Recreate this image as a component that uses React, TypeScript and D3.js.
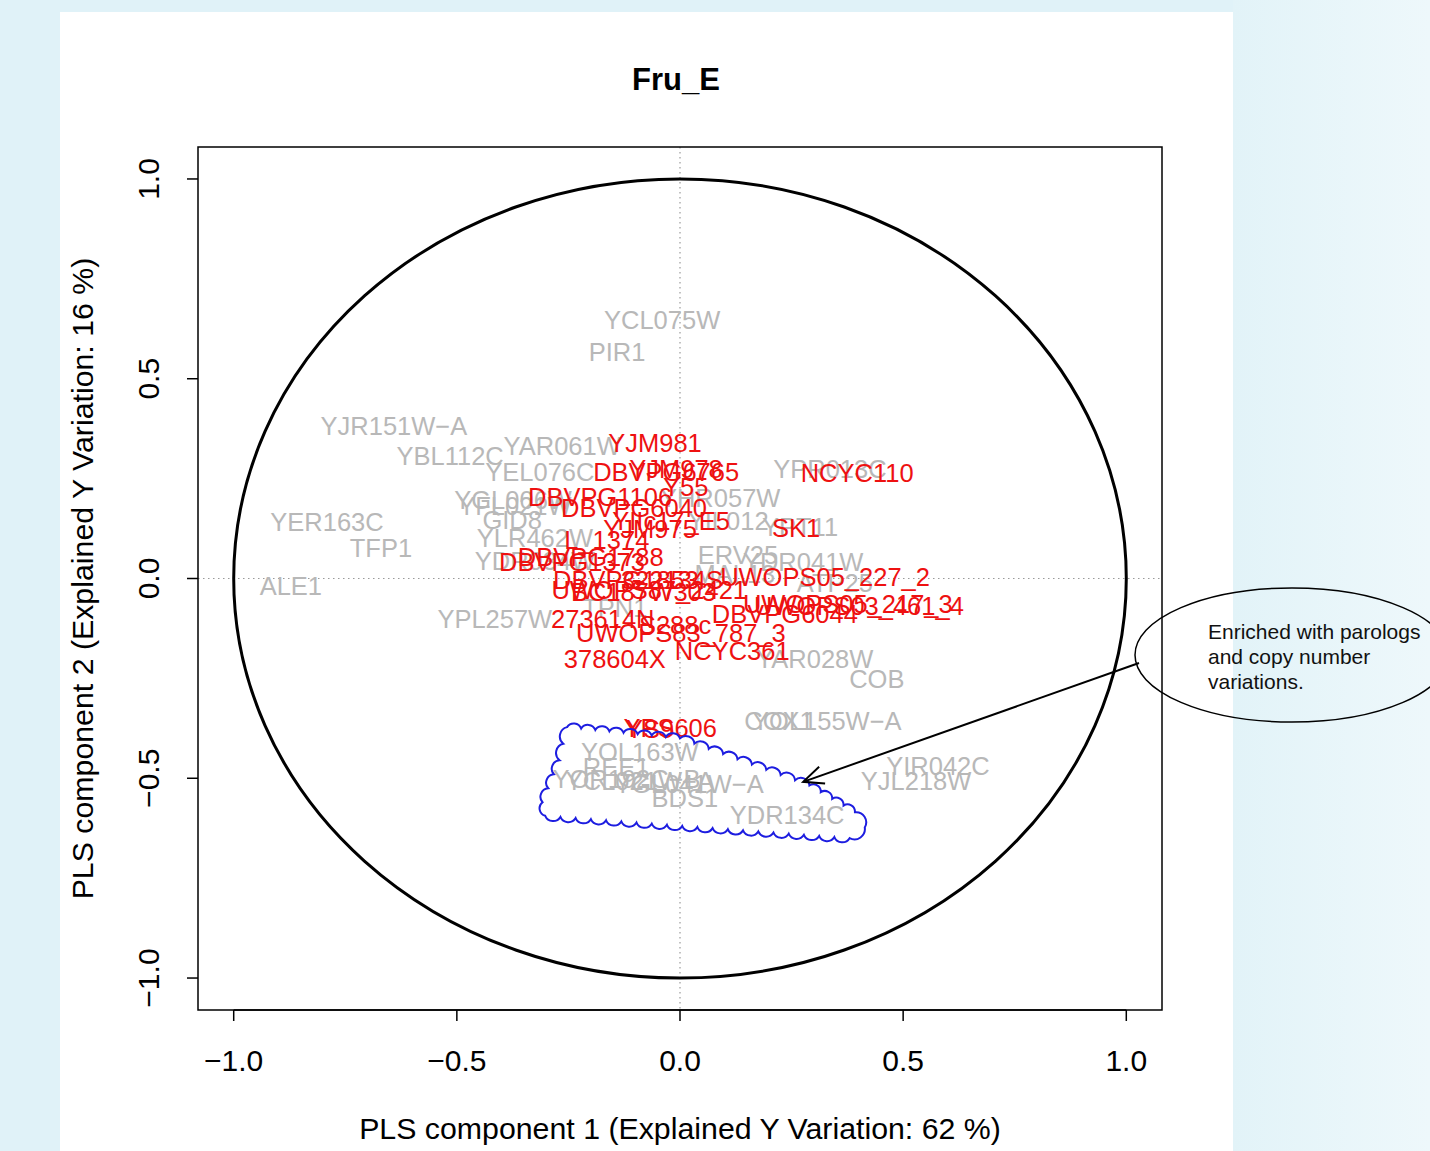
import React from "react";
import * as d3 from "d3";

const TITLE = "Fru_E";
const X_LABEL = "PLS component 1 (Explained Y Variation: 62 %)";
const Y_LABEL = "PLS component 2 (Explained Y Variation: 16 %)";
const xTicks = [-1, -0.5, 0, 0.5, 1];
const yTicks = [-1, -0.5, 0, 0.5, 1];
const tickLabels = ["−1.0", "−0.5", "0.0", "0.5", "1.0"];

// gray labels (genes)
const geneNames = [
  "YCL075W", "PIR1", "YJR151W−A", "YBL112C", "YAR061W", "YEL076C", "YGL006W", "YFL021W",
  "GID8", "YLR462W", "YDR034W", "YER163C", "TFP1", "ALE1", "YPL257W", "YHR057W", "YIL012",
  "YPT11", "ERV25", "YDR041W", "ATP25", "MAL13", "TPN1", "YAR028W", "COB", "COX1",
  "YOL155W−A", "YIR042C", "YJL218W", "YOL163W", "REE1", "YCL021W−A", "YOR192C−B",
  "YGL041W−A", "BDS1", "YDR134C", "YPR013C",
];
const geneX = [
  -0.040, -0.141, -0.641, -0.515, -0.264, -0.314, -0.374, -0.370,
  -0.376, -0.325, -0.325, -0.791, -0.670, -0.872, -0.415, 0.090, 0.108,
  0.269, 0.130, 0.276, 0.347, 0.123, -0.146, 0.302, 0.441, 0.222,
  0.329, 0.578, 0.529, -0.090, -0.143, -0.090, -0.120,
  0.020, 0.011, 0.240, 0.336,
];
const geneY = [
  0.647, 0.567, 0.382, 0.307, 0.332, 0.267, 0.196, 0.181,
  0.146, 0.101, 0.044, 0.141, 0.076, -0.019, -0.101, 0.202, 0.144,
  0.129, 0.059, 0.041, -0.011, 0.011, -0.074, -0.201, -0.252, -0.357,
  -0.357, -0.470, -0.508, -0.434, -0.472, -0.507, -0.503,
  -0.515, -0.549, -0.592, 0.274,
];

// red labels (strains)
const strainNames = [
  "YJM981", "DBVPG6765", "YJM978", "Y55", "NCYC110", "DBVPG1106", "DBVPG6040", "YIIc17_E5",
  "YJM975", "L_1374", "SK1", "DBVPG1788", "DBVPG1373", "DBVPG1853", "322134S", "UWOPS05_227_2",
  "UWOPS87_2421", "BC187", "W303", "273614N", "S288c", "UWOPS83_787_3", "378604X", "NCYC361",
  "DBVPG6044", "UWOPS03_461_4", "UWOPS05_217_3", "YPS606", "YS9",
];
const strainX = [
  -0.056, -0.031, -0.009, 0.013, 0.397, -0.179, -0.103, -0.020,
  -0.067, -0.164, 0.260, -0.200, -0.242, -0.121, -0.018, 0.325,
  -0.069, -0.157, 0.006, -0.173, -0.011, 0.002, -0.146, 0.117,
  0.235, 0.401, 0.376, -0.022, -0.067,
];
const strainY = [
  0.339, 0.267, 0.274, 0.229, 0.264, 0.204, 0.176, 0.145,
  0.124, 0.096, 0.126, 0.054, 0.041, -0.004, -0.004, 0.004,
  -0.029, -0.034, -0.034, -0.101, -0.116, -0.136, -0.201, -0.181,
  -0.089, -0.069, -0.064, -0.374, -0.377,
];

// cloud outline (data coords, clockwise on screen)
const cloudX = [-0.253, 0.000, 0.290, 0.392, 0.414, 0.380, -0.302, -0.308, -0.270];
const cloudY = [-0.372, -0.400, -0.518, -0.585, -0.623, -0.650, -0.594, -0.560, -0.455];

const calloutLines = ["Enriched with parologs", "and copy number", "variations."];
const arrowTip = [0.276, -0.509];

const W = 1430;
const H = 1151;
const FONT = "'Liberation Sans', Arial, Helvetica, sans-serif";

function cloudPath(pts: [number, number][]) {
  let d = `M${pts[0][0]},${pts[0][1]}`;
  const n = pts.length;
  for (let i = 0; i < n; i++) {
    const a = pts[i];
    const b = pts[(i + 1) % n];
    const len = Math.hypot(b[0] - a[0], b[1] - a[1]);
    const k = Math.max(1, Math.round(len / 15));
    for (let j = 1; j <= k; j++) {
      const px = a[0] + ((b[0] - a[0]) * j) / k;
      const py = a[1] + ((b[1] - a[1]) * j) / k;
      const r = (len / k) * 0.56;
      d += ` A${r},${r} 0 0 1 ${px},${py}`;
    }
  }
  return d + "Z";
}

export default function App() {
  const x = d3.scaleLinear().domain([-1.08, 1.08]).range([198, 1162]);
  const y = d3.scaleLinear().domain([-1.08, 1.08]).range([1010, 147]);
  const cx = x(0), cy = y(0);
  const rx = x(1) - x(0), ry = y(0) - y(1);
  const cloudPts: [number, number][] = cloudX.map((v, i) => [x(v), y(cloudY[i])]);
  const tip = [x(arrowTip[0]), y(arrowTip[1])];
  const start = [1139, 663];
  const ang = Math.atan2(tip[1] - start[1], tip[0] - start[0]);
  const ah = 22, aw = 0.42;
  const a1 = [tip[0] - ah * Math.cos(ang - aw), tip[1] - ah * Math.sin(ang - aw)];
  const a2 = [tip[0] - ah * Math.cos(ang + aw), tip[1] - ah * Math.sin(ang + aw)];

  return (
    <svg width={W} height={H} style={{ position: "absolute", left: 0, top: 0 }} fontFamily={FONT}>
      <defs>
        <linearGradient id="bgR" x1="0" x2="1" y1="0" y2="0">
          <stop offset="0" stopColor="#e2f3f8" />
          <stop offset="1" stopColor="#eef8fb" />
        </linearGradient>
      </defs>
      <rect x={0} y={0} width={W} height={H} fill="#e0f2f8" />
      <rect x={1233} y={0} width={W - 1233} height={H} fill="url(#bgR)" />
      <rect x={60} y={12} width={1173} height={H - 12} fill="#ffffff" />

      <text x={676} y={79} textAnchor="middle" dominantBaseline="central" fontSize={31} fontWeight="bold">
        {TITLE}
      </text>

      {/* dotted axes */}
      <line x1={cx} x2={cx} y1={147} y2={1010} stroke="#9a9a9a" strokeWidth={1.2} strokeDasharray="1.5,3.5" />
      <line x1={198} x2={1162} y1={cy} y2={cy} stroke="#9a9a9a" strokeWidth={1.2} strokeDasharray="1.5,3.5" />

      {/* unit circle */}
      <ellipse cx={cx} cy={cy} rx={rx} ry={ry} fill="none" stroke="#000" strokeWidth={3} />

      {/* gene labels */}
      {geneNames.map((n, i) => (
        <text key={"g" + i} x={x(geneX[i])} y={y(geneY[i])} textAnchor="middle" dominantBaseline="central"
          fontSize={25.5} fill="#b8b8b8">{n}</text>
      ))}
      {/* strain labels */}
      {strainNames.map((n, i) => (
        <text key={"s" + i} x={x(strainX[i])} y={y(strainY[i])} textAnchor="middle" dominantBaseline="central"
          fontSize={25.5} fill="#ee1111">{n}</text>
      ))}

      {/* cloud */}
      <path d={cloudPath(cloudPts)} fill="none" stroke="#1d1de0" strokeWidth={2} />

      {/* plot box */}
      <rect x={198} y={147} width={964} height={863} fill="none" stroke="#000" strokeWidth={1.5} />

      {/* x axis */}
      <line x1={x(-1)} x2={x(1)} y1={1010} y2={1010} stroke="#000" strokeWidth={1.5} />
      {xTicks.map((t, i) => (
        <g key={"xt" + i}>
          <line x1={x(t)} x2={x(t)} y1={1010} y2={1021} stroke="#000" strokeWidth={1.5} />
          <text x={x(t)} y={1060} textAnchor="middle" dominantBaseline="central" fontSize={30}>{tickLabels[i]}</text>
        </g>
      ))}
      {/* y axis */}
      {yTicks.map((t, i) => (
        <g key={"yt" + i}>
          <line x1={187} x2={198} y1={y(t)} y2={y(t)} stroke="#000" strokeWidth={1.5} />
          <text transform={`translate(148,${y(t)}) rotate(-90)`} textAnchor="middle" dominantBaseline="central" fontSize={30}>
            {tickLabels[i]}
          </text>
        </g>
      ))}

      <text x={680} y={1128} textAnchor="middle" dominantBaseline="central" fontSize={30.3}>{X_LABEL}</text>
      <text transform={`translate(82,${cy}) rotate(-90)`} textAnchor="middle" dominantBaseline="central" fontSize={30.3}>
        {Y_LABEL}
      </text>

      {/* callout */}
      <ellipse cx={1292} cy={655} rx={157} ry={67} fill="none" stroke="#000" strokeWidth={1.5} />
      {calloutLines.map((l, i) => (
        <text key={"c" + i} x={1208} y={631 + i * 25} dominantBaseline="central" fontSize={21} fill="#111">{l}</text>
      ))}
      <line x1={start[0]} y1={start[1]} x2={tip[0]} y2={tip[1]} stroke="#000" strokeWidth={2} />
      <polyline points={`${a1[0]},${a1[1]} ${tip[0]},${tip[1]} ${a2[0]},${a2[1]}`} fill="none" stroke="#000" strokeWidth={2} />
    </svg>
  );
}
